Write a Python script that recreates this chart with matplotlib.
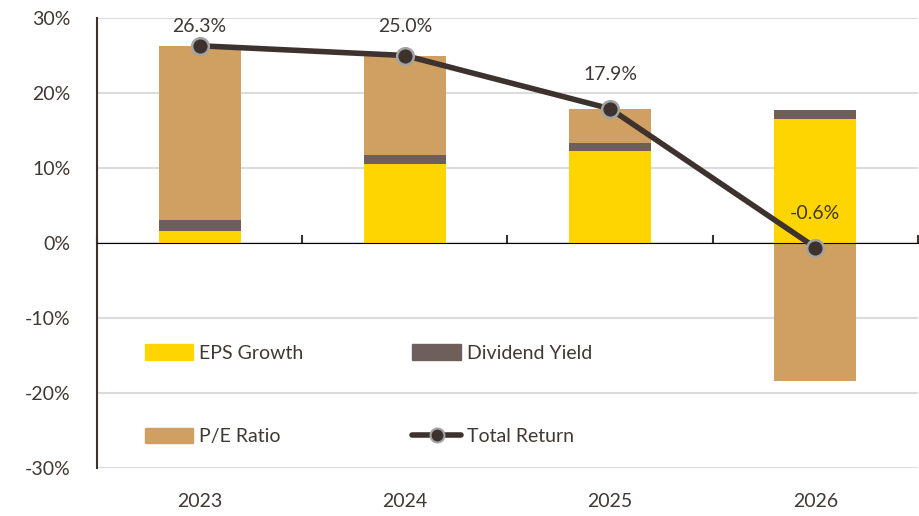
import matplotlib
matplotlib.use("Agg")
import matplotlib.pyplot as plt
import numpy as np
from matplotlib.patches import Patch
from matplotlib.lines import Line2D

years = ["2023", "2024", "2025", "2026"]
eps_growth = [1.6, 10.5, 12.3, 16.6]
dividend_yield = [1.5, 1.2, 1.1, 1.2]
pe_ratio = [23.2, 13.3, 4.5, -18.4]
total_return = [26.3, 25.0, 17.9, -0.6]
y_ticks = [-30, -20, -10, 0, 10, 20, 30]

C_EPS = "#FFD500"
C_DIV = "#6E5F5C"
C_PE = "#D0A062"
C_LINE = "#3D322D"
C_TEXT = "#403835"
C_GRID = "#DCDCDC"
FS = 14

plt.rcParams["font.family"] = ["Lato", "DejaVu Sans"]

fig = plt.figure(figsize=(9.2, 5.16), dpi=100)
ax = fig.add_axes([97/920, 1-468/516, 821/920, 450/516])

x = np.arange(len(years))
w = 0.4
eps = np.array(eps_growth)
div = np.array(dividend_yield)
pe = np.array(pe_ratio)

ax.bar(x, eps, w, color=C_EPS, zorder=2)
ax.bar(x, div, w, bottom=eps, color=C_DIV, zorder=2)
pos_base = eps + div
pe_bottom = np.where(pe >= 0, pos_base, 0)
ax.bar(x, pe, w, bottom=pe_bottom, color=C_PE, zorder=2)

ax.plot(x, total_return, color=C_LINE, lw=4, zorder=4, solid_capstyle="round",
        marker="o", markersize=12, markerfacecolor=C_LINE,
        markeredgecolor="#A3A3A3", markeredgewidth=1.8)

ax.set_xlim(-0.5, len(years) - 0.5)
ax.set_ylim(-30, 30)

# data labels: ~34px above the point, kept inside the plot area
px_per_unit = ax.bbox.height / (30 - (-30))
label_off = 34 / px_per_unit
label_max = 30 - 8 / px_per_unit
for xi, v in zip(x, total_return):
    ax.text(xi, min(v + label_off, label_max), f"{v:.1f}%",
            ha="center", va="center", fontsize=FS, color=C_TEXT, zorder=5)

ax.set_yticks(y_ticks)
ax.set_yticklabels([f"{t}%" for t in y_ticks])
ax.yaxis.grid(True, color=C_GRID, lw=1.5, zorder=0)
ax.set_axisbelow(True)
ax.tick_params(axis="y", length=0, pad=19, labelsize=FS, labelcolor=C_TEXT)
ax.set_xticks(x)
ax.set_xticklabels(years)
ax.tick_params(axis="x", length=0, pad=18, labelsize=FS, labelcolor=C_TEXT)

for s in ["top", "right", "bottom"]:
    ax.spines[s].set_visible(False)
ax.spines["left"].set_color(C_LINE)
ax.spines["left"].set_linewidth(1.5)

sec = ax.secondary_xaxis(0.5)
sec.set_xticks(np.arange(len(years) + 1) - 0.5)
sec.set_xticklabels([])
sec.tick_params(axis="x", direction="out", length=6, width=1.5, color=C_LINE)
sec.spines["bottom"].set_color(C_LINE)
sec.spines["bottom"].set_linewidth(2)
sec.set_zorder(3)

handles = [
    Patch(color=C_EPS, label="EPS Growth"),
    Patch(color=C_PE, label="P/E Ratio"),
    Patch(color=C_DIV, label="Dividend Yield"),
    Line2D([], [], color=C_LINE, lw=4, marker="o", markersize=10,
           markerfacecolor=C_LINE, markeredgecolor="#A3A3A3", markeredgewidth=1.5,
           solid_capstyle="round", label="Total Return"),
]
leg = ax.legend(handles=handles, ncol=2, loc="upper left",
                bbox_to_anchor=(0.058, 0.275), frameon=False, fontsize=FS,
                handlelength=2.5, handleheight=0.85, handletextpad=0.3,
                columnspacing=5.6, labelspacing=3.4, borderpad=0, borderaxespad=0)
for t in leg.get_texts():
    t.set_color(C_TEXT)

fig.savefig("out.png", dpi=100)
